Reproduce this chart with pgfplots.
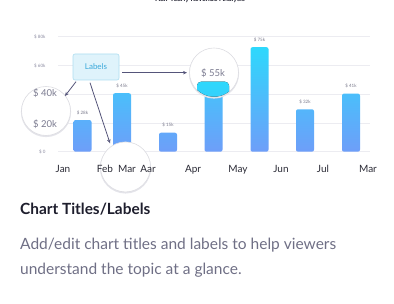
\documentclass[border=0pt]{standalone}
\usepackage{fontspec}
\setmainfont{Lato}
\usepackage{pgfplots}
\usepackage{pgfplotstable}
\pgfplotsset{compat=1.18}
\usetikzlibrary{arrows.meta}
\definecolor{gridc}{HTML}{ECECF1}
\definecolor{ytc}{HTML}{8A8AA0}
\definecolor{xtc}{HTML}{2A2A35}
\definecolor{valc}{HTML}{7A7A8C}
\definecolor{barA}{HTML}{2ED8FC}
\definecolor{barB}{HTML}{6E9EF9}
\definecolor{boxf}{HTML}{DFF3FB}
\definecolor{boxd}{HTML}{ADDDF0}
\definecolor{boxt}{HTML}{3AA8DA}
\definecolor{arrc}{HTML}{55557A}
\definecolor{magt}{HTML}{7B7B90}
\definecolor{circd}{HTML}{DDDDE2}
\definecolor{shad}{HTML}{E4E4EA}
\definecolor{titc}{HTML}{1E1E2D}
\definecolor{parc}{HTML}{6F6F85}
\pgfplotstableread[col sep=comma]{
x,y,lab
82.5,22,\$ 28k
122,40.7,\$ 45k
168,13.2,\$ 15k
213.5,55,\$ 55k
259.5,72.7,\$ 75k
305,29.5,\$ 32k
351,40.4,\$ 41k
}\bardata
\begin{document}
\begin{tikzpicture}
\path (0pt,0pt) rectangle (394pt,304pt);
\begin{axis}[set layers, at={(58pt,152.3pt)}, anchor=south west, scale only axis,
  width=312pt, height=115pt, xmin=58, xmax=370, ymin=0, ymax=80,
  axis line style={draw=none}, major tick length=0pt,
  ymajorgrids, grid style={gridc, line width=0.6pt},
  ytick={0,20,40,60,80}, yticklabels={\$ 0,,,\$ 60k,\$ 80k},
  yticklabel style={font=\fontsize{4.5}{5}\selectfont, text=ytc, anchor=east, xshift=-9pt},
  xtick={63,105,127,148,193,238,281,323,368},
  xticklabels={Jan,Feb,Mar,Aar,Apr,May,Jun,Jul,Mar},
  xticklabel style={font=\fontsize{10}{12}\selectfont, text=xtc, anchor=base, yshift=-20.8pt},
  clip=false]
\addplot[on layer=axis ticks, ybar, bar width=18pt, draw=none, top color=barA, bottom color=barB, rounded corners=2pt] table[x=x, y=y] {\bardata};
\addplot[on layer=axis ticks, draw=none, mark=none, nodes near coords, point meta=explicit symbolic,
  nodes near coords style={font=\fontsize{4.5}{5}\selectfont, text=valc, anchor=south, yshift=2pt}]
  table[x=x, y=y, meta=lab] {\bardata};
% magnifier on Mar (above bars, under tick labels)
\begin{pgfonlayer}{axis lines}
\fill[shad] (axis cs:125.5,-11.3) circle[radius=25.6pt];
\draw[circd, fill=white, line width=0.6pt] (axis cs:125.5,-10.6) circle[radius=25pt];
\end{pgfonlayer}
\end{axis}
\begin{pgfonlayer}{axis foreground}
% magnifier on Apr bar
\fill[shad] (214pt,230.5pt) circle[radius=25.1pt];
\draw[circd, fill=white, line width=0.6pt] (214pt,231.5pt) circle[radius=24.5pt];
\fill[top color=barA, bottom color=barA!85!barB] (197pt,214.3pt) arc[start angle=225.3, end angle=308.3, radius=24.2pt] [rounded corners=4pt] -- (229pt,222.3pt) -- (197pt,222.3pt) [sharp corners] -- cycle;
\node[font=\fontsize{9.5}{11}\selectfont, text=magt] at (213pt,230.7pt) {\$ 55k};
% magnifier on y axis
\fill[shad] (46pt,192pt) circle[radius=25.1pt];
\draw[circd, fill=white, line width=0.6pt] (46pt,193pt) circle[radius=24.5pt];
\node[font=\fontsize{9.5}{11}\selectfont, text=magt] at (45pt,211pt) {\$ 40k};
\node[font=\fontsize{9.5}{11}\selectfont, text=magt] at (45pt,180pt) {\$ 20k};
% Labels box and arrows
\draw[boxd, fill=boxf, rounded corners=2pt, line width=0.6pt] (73pt,250pt) rectangle (119pt,224pt);
\node[font=\fontsize{8}{10}\selectfont, text=boxt] at (96pt,237pt) {Labels};
\draw[arrc, line width=0.8pt, -{Stealth[length=4pt,width=3.5pt]}] (76pt,222.3pt) -- (65pt,208pt);
\draw[arrc, line width=0.8pt, -{Stealth[length=4pt,width=3.5pt]}] (90pt,221.3pt) -- (110pt,160.7pt);
\draw[arrc, line width=0.8pt, -{Stealth[length=4pt,width=3.5pt]}] (122.3pt,231.3pt) -- (187pt,231.3pt);
% caption text
\node[anchor=base west, inner sep=0pt, font=\bfseries\fontsize{15.4}{18}\selectfont, text=titc] at (20pt,89pt) {Chart Titles/Labels};
\node[anchor=base west, inner sep=0pt, font=\fontsize{15.5}{18}\selectfont, text=parc] at (20pt,54pt) {Add/edit chart titles and labels to help viewers};
\node[anchor=base west, inner sep=0pt, font=\fontsize{15.5}{18}\selectfont, text=parc] at (20pt,29pt) {understand the topic at a glance.};
% clipped title
\begin{scope}
\clip (0pt,0pt) rectangle (394pt,304pt);
\node[overlay, anchor=base, inner sep=0pt, font=\bfseries\fontsize{7}{8}\selectfont, text=titc] at (200pt,302pt) {Half Yearly Revenue Analysis};
\end{scope}
\end{pgfonlayer}
\end{tikzpicture}
\end{document}
